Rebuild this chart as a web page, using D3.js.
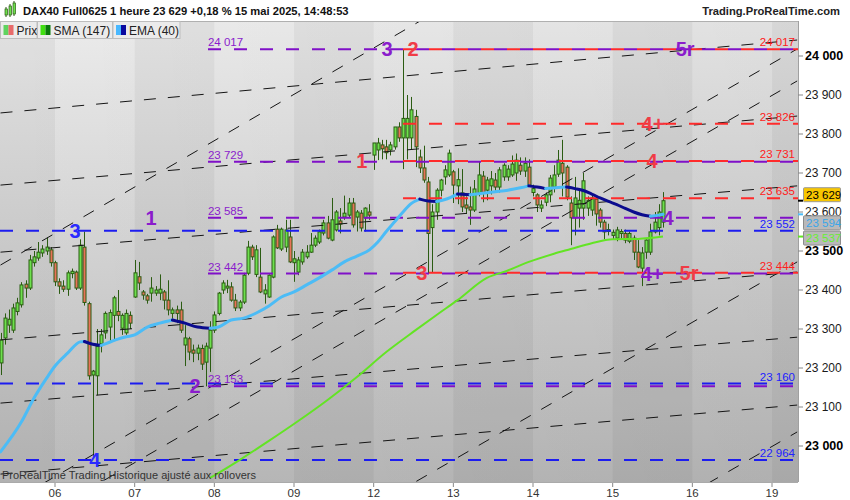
<!DOCTYPE html>
<html><head><meta charset="utf-8">
<script src="https://cdn.jsdelivr.net/npm/d3@7"></script>
<style>body{margin:0;background:#fff;} svg{display:block;font-family:"Liberation Sans",Arial,sans-serif;}</style>
</head><body><svg id="c" width="850" height="500"></svg>
<script>
// ---------- DATA ----------
// hourly candles [open, high, low, close] per trading day
const day05=[[23213,23290,23182,23272],[23277,23340,23260,23328],[23310,23350,23290,23325],[23297,23365,23290,23354],[23345,23380,23335,23367],[23362,23420,23355,23413],[23415,23425,23380,23405],[23405,23490,23400,23477],[23470,23500,23460,23485],[23482,23523,23475,23497],[23495,23515,23485,23505],[23500,23535,23490,23510],[23503,23510,23460,23470]];
const day06=[[23470,23475,23410,23421],[23421,23430,23390,23410],[23410,23425,23395,23402],[23402,23450,23385,23444],[23442,23455,23430,23448],[23446,23450,23400,23405],[23405,23530,23400,23515],[23510,23550,23360,23368],[23365,23370,23170,23180],[23182,23195,22970,23192],[23180,23300,23130,23255],[23262,23300,23240,23285],[23290,23345,23275,23340],[23305,23350,23270,23342],[23335,23385,23270,23380],[23345,23400,23320,23335],[23302,23340,23285,23335],[23290,23350,23285,23340],[23335,23345,23300,23315]];
const day07=[[23382,23477,23380,23444],[23434,23472,23400,23418],[23395,23400,23375,23387],[23385,23390,23365,23374],[23392,23433,23370,23405],[23392,23410,23385,23400],[23392,23440,23374,23402],[23395,23400,23350,23374],[23374,23425,23335,23349],[23340,23355,23320,23349],[23349,23360,23315,23340],[23349,23370,23290,23297],[23259,23310,23205,23277],[23275,23280,23220,23241],[23246,23260,23215,23238],[23238,23260,23220,23251],[23250,23260,23195,23210],[23215,23265,23153,23256],[23251,23320,23190,23297]];
const day08=[[23297,23345,23290,23336],[23340,23395,23335,23392],[23400,23425,23390,23418],[23405,23426,23392,23410],[23408,23420,23370,23374],[23374,23390,23346,23354],[23354,23374,23346,23369],[23369,23444,23364,23438],[23443,23526,23438,23510],[23510,23516,23477,23485],[23440,23515,23433,23503],[23433,23508,23392,23395],[23390,23415,23365,23400],[23382,23440,23380,23438],[23433,23540,23430,23536],[23556,23567,23505,23508],[23505,23560,23500,23556],[23510,23580,23497,23554],[23536,23580,23469,23472]];
const day09=[[23470,23500,23421,23480],[23446,23485,23438,23477],[23472,23505,23465,23497],[23485,23515,23480,23497],[23497,23546,23495,23515],[23515,23540,23510,23533],[23523,23555,23518,23549],[23546,23580,23540,23572],[23572,23590,23530,23533],[23528,23636,23525,23580],[23554,23605,23550,23600],[23577,23610,23545,23569],[23587,23642,23580,23597],[23592,23636,23585,23623],[23623,23636,23560,23567],[23587,23605,23550,23600],[23597,23605,23550,23559],[23585,23612,23550,23610],[23600,23620,23580,23592]];
const day12=[[23746,23777,23708,23777],[23759,23790,23733,23777],[23772,23785,23735,23762],[23767,23785,23735,23752],[23759,23780,23745,23772],[23767,23818,23760,23818],[23818,23830,23780,23790],[23790,24017,23710,23840],[23790,23900,23735,23840],[23790,23895,23760,23862],[23845,23862,23715,23767],[23741,23760,23700,23713],[23713,23770,23675,23682],[23677,23690,23442,23545],[23560,23620,23444,23600],[23600,23661,23580,23656],[23656,23685,23640,23682],[23690,23720,23670,23708],[23695,23760,23690,23751]];
const day13=[[23703,23708,23623,23669],[23667,23712,23620,23683],[23649,23710,23600,23613],[23618,23640,23595,23610],[23613,23665,23567,23605],[23605,23682,23600,23659],[23649,23730,23640,23695],[23692,23705,23625,23649],[23656,23690,23630,23682],[23667,23705,23645,23685],[23682,23700,23655,23664],[23664,23715,23650,23708],[23690,23725,23680,23720],[23690,23720,23680,23710],[23695,23745,23690,23723],[23700,23750,23680,23733],[23720,23740,23695,23705],[23705,23740,23690,23725],[23715,23735,23665,23669]];
const day14=[[23650,23670,23640,23660],[23644,23648,23600,23618],[23610,23630,23600,23618],[23625,23650,23615,23644],[23644,23695,23625,23687],[23664,23720,23650,23695],[23697,23759,23690,23733],[23725,23785,23640,23700],[23715,23720,23630,23638],[23623,23640,23515,23585],[23585,23690,23540,23636],[23610,23660,23560,23630],[23610,23700,23580,23680],[23610,23640,23590,23630],[23605,23645,23590,23636],[23633,23640,23565,23595],[23605,23610,23560,23574],[23574,23580,23530,23549],[23555,23570,23540,23550]];
const day15=[[23540,23555,23530,23548],[23533,23562,23525,23554],[23545,23556,23530,23550],[23545,23555,23520,23528],[23525,23550,23520,23545],[23533,23540,23477,23497],[23497,23528,23456,23459],[23456,23510,23410,23495],[23497,23530,23480,23528],[23497,23570,23490,23549],[23549,23600,23545,23574],[23560,23620,23540,23600],[23574,23651,23560,23629]];

// EMA(40) and SMA(147) read as [bar index, value]
const emaPoints=[[0,22985],[5,23062],[8,23123],[11,23174],[13,23205],[16,23238],[19,23267],[20,23268],[22,23261],[24,23258],[26,23266],[28,23274],[30,23280],[32,23285],[35,23305],[38,23315],[41,23323],[44,23315],[47,23305],[50,23302],[52,23305],[55,23323],[58,23328],[61,23341],[64,23359],[67,23382],[70,23395],[73,23413],[76,23431],[79,23451],[82,23472],[85,23487],[88,23503],[90,23523],[92,23550],[94,23575],[96,23600],[98,23622],[100,23633],[102,23628],[104,23627],[106,23632],[109,23646],[112,23644],[115,23648],[118,23652],[121,23656],[124,23662],[126,23667],[128,23664],[130,23660],[133,23663],[135,23664],[137,23660],[139,23655],[141,23646],[143,23636],[145,23627],[147,23619],[149,23609],[151,23600],[153,23593],[155,23589],[157,23592],[158,23594]];
const smaPoints=[[50,22918],[57,22964],[64,23013],[71,23064],[78,23118],[85,23177],[92,23241],[99,23297],[104,23336],[109,23374],[116,23431],[121,23450],[126,23472],[132,23493],[136,23505],[141,23520],[146,23530],[152,23531],[158,23537]];

// horizontal levels
const blueLevels=[23552,23160,22964];
const purpleLevels=[24017,23729,23585,23442,23153];
const redLevels=[24017,23826,23731,23635,23444];
const levelStart={blue:0,purple:49,red:96};

// dashed trend lines [idx1, price1, idx2, price2]
const trendLines=[
 [0,23854,190,24041],[0,23669,190,23846],[0,23497,190,23667],[0,23272,190,23446],[0,23110,190,23279],[0,22928,190,23105],
 [0,23464,190,24652],[0,22841,190,24018],[0,22759,190,23936],[0,22295,190,23472],[0,21859,190,23036]
];

// wave labels [text, colour key, bar index, level]
const waveLabels=[
 ["3","blue",17.8,23552],["4","blue",22.5,22964],
 ["1","purple",35.9,23585],["2","purple",46.4,23153],["3","purple",92.2,24017],
 ["2","red",98.4,24017],["1","red",86.2,23731],["3","red",100.5,23444],
 ["4+","red",155.6,23826],["4","red",155.4,23731],["4","purple",159.2,23585],
 ["4+","purple",155.4,23442],["5r","red",164.2,23444],["5r","purple",163.3,24017]
];

const dayLabels=["06","07","08","09","12","13","14","15","16","19"];
const barsPerDay=19, firstDayStart=13;
const yTickValues=[23000,23100,23200,23300,23400,23500,23600,23700,23800,23900,24000];
const lastPrice=23629, emaLast=23594, smaLast=23537;
const titleText="DAX40 Full0625 1 heure 23 629 +0,18 % 15 mai 2025, 14:48:53";

// ---------- DRAWING ----------
const svg=d3.select("#c");
const L=0,R=798,T=21,B=482;
const x=d3.scaleLinear().domain([0,190]).range([0.5,0.5+190*4.193]);
const y=d3.scaleLinear().domain([23000,24000]).range([446,56]);
const fmt=d3.formatLocale({decimal:",",thousands:" ",grouping:[3],currency:["",""]}).format(",d");
const col={blue:"#1c1cf0",purple:"#8010c8",red:"#ff2b2b"};
const txtCol={blue:"#2a2aff",purple:"#8a1ccc",red:"#f03c46"};

const defs=svg.append("defs");
const g1=defs.append("linearGradient").attr("id","bg").attr("x1",0).attr("y1",0).attr("x2",0).attr("y2",1);
g1.append("stop").attr("offset","0%").attr("stop-color","#ececec");
g1.append("stop").attr("offset","100%").attr("stop-color","#b9b9b9");
const g2=defs.append("linearGradient").attr("id","bgh").attr("x1",0).attr("y1",0).attr("x2",1).attr("y2",0);
g2.append("stop").attr("offset","0%").attr("stop-color","#000").attr("stop-opacity",0);
g2.append("stop").attr("offset","100%").attr("stop-color","#000").attr("stop-opacity",0.05);
defs.append("clipPath").attr("id","clip").append("rect").attr("x",L).attr("y",T).attr("width",R-L).attr("height",B-T);

svg.append("rect").attr("x",L).attr("y",T).attr("width",R-L).attr("height",B-T).attr("fill","url(#bg)");
svg.append("rect").attr("x",L).attr("y",T).attr("width",R-L).attr("height",B-T).attr("fill","url(#bgh)");

const plot=svg.append("g").attr("clip-path","url(#clip)");
// day bands
for(let k=-1;k<dayLabels.length;k++){
  if((k+1)%2!==0) continue;
  const s=k<0?-5:firstDayStart+barsPerDay*k, e=firstDayStart+barsPerDay*(k+1);
  plot.append("rect").attr("x",x(s)).attr("y",T).attr("width",x(e)-x(s)).attr("height",B-T).attr("fill","rgba(0,0,0,0.045)");
}

// candles
const bars=[].concat(day05,day06,day07,day08,day09,day12,day13,day14,day15).map((d,i)=>({i,o:d[0],h:d[1],l:d[2],c:d[3]}));
const cg=plot.append("g");
cg.selectAll("line").data(bars).join("line")
  .attr("x1",d=>Math.round(x(d.i))+0.5).attr("x2",d=>Math.round(x(d.i))+0.5)
  .attr("y1",d=>y(d.h)).attr("y2",d=>y(d.l)).attr("stroke","#2b5c12").attr("stroke-width",1);
cg.selectAll("rect").data(bars).join("rect")
  .attr("x",d=>Math.round(x(d.i))-1).attr("width",3)
  .attr("y",d=>y(Math.max(d.o,d.c))).attr("height",d=>Math.max(1,y(Math.min(d.o,d.c))-y(Math.max(d.o,d.c))))
  .attr("fill",d=>d.c>=d.o?"#6ee04e":"#e8735a").attr("stroke","#2b5c12").attr("stroke-width",1);

// trend lines
plot.selectAll("line.tr").data(trendLines).join("line").attr("class","tr")
  .attr("x1",d=>x(d[0])).attr("y1",d=>y(d[1])).attr("x2",d=>x(d[2])).attr("y2",d=>y(d[3]))
  .attr("stroke","#151515").attr("stroke-width",1).attr("stroke-dasharray","12,12");

// levels
function levels(arr,key,phase){
  const xs=levelStart[key]===0?L:x(levelStart[key]);
  arr.forEach(v=>{
    plot.append("line").attr("x1",xs).attr("x2",R).attr("y1",y(v)).attr("y2",y(v))
      .attr("stroke",col[key]).attr("stroke-width",2).attr("stroke-dasharray","13,13")
      .attr("stroke-dashoffset",((xs-phase)%26+26)%26);
  });
}
levels(blueLevels,"blue",0);
levels(purpleLevels,"purple",0);
levels(redLevels,"red",13);

// SMA
const line=d3.line().x(d=>x(d[0])).y(d=>y(d[1])).curve(d3.curveMonotoneX);
plot.append("path").attr("d",line(smaPoints)).attr("fill","none").attr("stroke","#63e424").attr("stroke-width",2);
// EMA coloured by direction
const runs=[];let cur=null;
for(let k=0;k<emaPoints.length-1;k++){
  const c=emaPoints[k+1][1]>=emaPoints[k][1]?"up":"down";
  if(!cur||cur.c!==c){cur={c,pts:[emaPoints[k]]};runs.push(cur);}
  cur.pts.push(emaPoints[k+1]);
}
runs.forEach(r=>plot.append("path").attr("d",line(r.pts)).attr("fill","none")
  .attr("stroke",r.c==="up"?"#4cbcf6":"#0b0b8e").attr("stroke-width",3).attr("stroke-linecap","round"));

// purple level values at start
purpleLevels.forEach(v=>svg.append("text").attr("x",x(levelStart.purple)+2).attr("y",y(v)-3)
  .attr("font-size",11.5).attr("fill","#8a1ccc").text(fmt(v)));
// right-side level values
redLevels.forEach(v=>svg.append("text").attr("x",795).attr("y",y(v)-3).attr("text-anchor","end")
  .attr("font-size",11.5).attr("fill","#ff2020").text(fmt(v)));
blueLevels.forEach(v=>svg.append("text").attr("x",795).attr("y",y(v)-3).attr("text-anchor","end")
  .attr("font-size",11.5).attr("fill","#2020ff").text(fmt(v)));
// wave labels
waveLabels.forEach(w=>svg.append("text").attr("x",x(w[2])).attr("y",y(w[3])+7).attr("text-anchor","middle")
  .attr("font-size",20).attr("font-weight","bold").attr("fill",txtCol[w[1]]).text(w[0]));

// borders
svg.append("line").attr("x1",0).attr("x2",R).attr("y1",T+0.5).attr("y2",T+0.5).attr("stroke","#b0b0b0");
svg.append("line").attr("x1",R+0.5).attr("x2",R+0.5).attr("y1",T).attr("y2",B).attr("stroke","#a0a0a0");

// right axis
yTickValues.forEach(v=>{
  svg.append("line").attr("x1",R).attr("x2",R+5).attr("y1",y(v)).attr("y2",y(v)).attr("stroke","#888");
  const major=v%500===0;
  svg.append("text").attr("x",R+7).attr("y",y(v)+4).attr("font-size",major?12.5:12)
    .attr("font-weight",major?"bold":"normal").attr("fill",major?"#000":"#1a1a1a").text(fmt(v));
});
// price tags (last price tag sits above its level, indicator tags below, as in ProRealTime)
const tags=[{v:lastPrice,fill:"#f7c600",stroke:"#9a9a9a",tc:"#000",mk:"#000",shift:-6},
            {v:emaLast,fill:"#b9b9b9",stroke:"#8c8c8c",tc:"#3aa6ea",mk:"#4cbcf6",shift:8.5},
            {v:smaLast,fill:"#b9b9b9",stroke:"#8c8c8c",tc:"#66f030",mk:"#63e424",shift:1.5}];
tags.forEach(t=>{
  const cy=y(t.v)+t.shift;
  svg.append("line").attr("x1",R).attr("x2",R+5).attr("y1",y(t.v)).attr("y2",y(t.v)).attr("stroke",t.mk).attr("stroke-width",2);
  svg.append("rect").attr("x",803.5).attr("y",cy-7).attr("width",37).attr("height",14).attr("rx",1)
    .attr("fill",t.fill).attr("stroke",t.stroke);
  svg.append("text").attr("x",806).attr("y",cy+4).attr("font-size",11.5).attr("fill",t.tc).text(fmt(t.v));
});

// bottom axis
dayLabels.forEach((lab,k)=>{
  const xi=x(firstDayStart+barsPerDay*k);
  svg.append("line").attr("x1",xi).attr("x2",xi).attr("y1",B).attr("y2",B+5).attr("stroke","#888");
  svg.append("text").attr("x",xi).attr("y",497).attr("text-anchor","middle").attr("font-size",11.5).attr("fill","#333").text(lab);
});
svg.append("line").attr("x1",0).attr("x2",R).attr("y1",B+0.5).attr("y2",B+0.5).attr("stroke","#aaa");

// header
[[5,9,6],[9,6,9],[13,3,11]].forEach(c=>{
  svg.append("line").attr("x1",c[0]+1).attr("x2",c[0]+1).attr("y1",c[1]-2).attr("y2",c[1]+c[2]+2).attr("stroke","#2b5c12");
  svg.append("rect").attr("x",c[0]).attr("y",c[1]).attr("width",2.5).attr("height",c[2]).attr("fill","#6ee04e").attr("stroke","#2b5c12").attr("stroke-width",0.7);
});
svg.append("text").attr("x",23).attr("y",15).attr("font-size",11.2).attr("font-weight","bold").attr("fill","#111").text(titleText);
svg.append("text").attr("x",840).attr("y",15).attr("text-anchor","end").attr("font-size",11.2).attr("font-weight","bold").attr("fill","#222").text("Trading.ProRealTime.com");

// legend
const leg=[{x0:0.5,w:36.5,t:"Prix",c1:"#5fd35f",c2:"#e86b6b"},{x0:37.5,w:75,t:"SMA (147)",c1:"#40e010",c2:"#0a7a0a"},{x0:113,w:67,t:"EMA (40)",c1:"#48b8ff",c2:"#0a0aa0"}];
leg.forEach(l=>{
  svg.append("rect").attr("x",l.x0).attr("y",21.5).attr("width",l.w).attr("height",17).attr("fill","#ebebeb").attr("stroke","#bdbdbd");
  svg.append("rect").attr("x",l.x0+3).attr("y",25).attr("width",5).attr("height",10).attr("fill",l.c1);
  svg.append("rect").attr("x",l.x0+8).attr("y",25).attr("width",5).attr("height",10).attr("fill",l.c2);
  svg.append("text").attr("x",l.x0+16).attr("y",34.5).attr("font-size",12).attr("fill","#222").text(l.t);
});

svg.append("text").attr("x",2).attr("y",479).attr("font-size",11).attr("fill","#333").text("ProRealTime Trading  Historique ajusté aux rollovers");
</script></body></html>
